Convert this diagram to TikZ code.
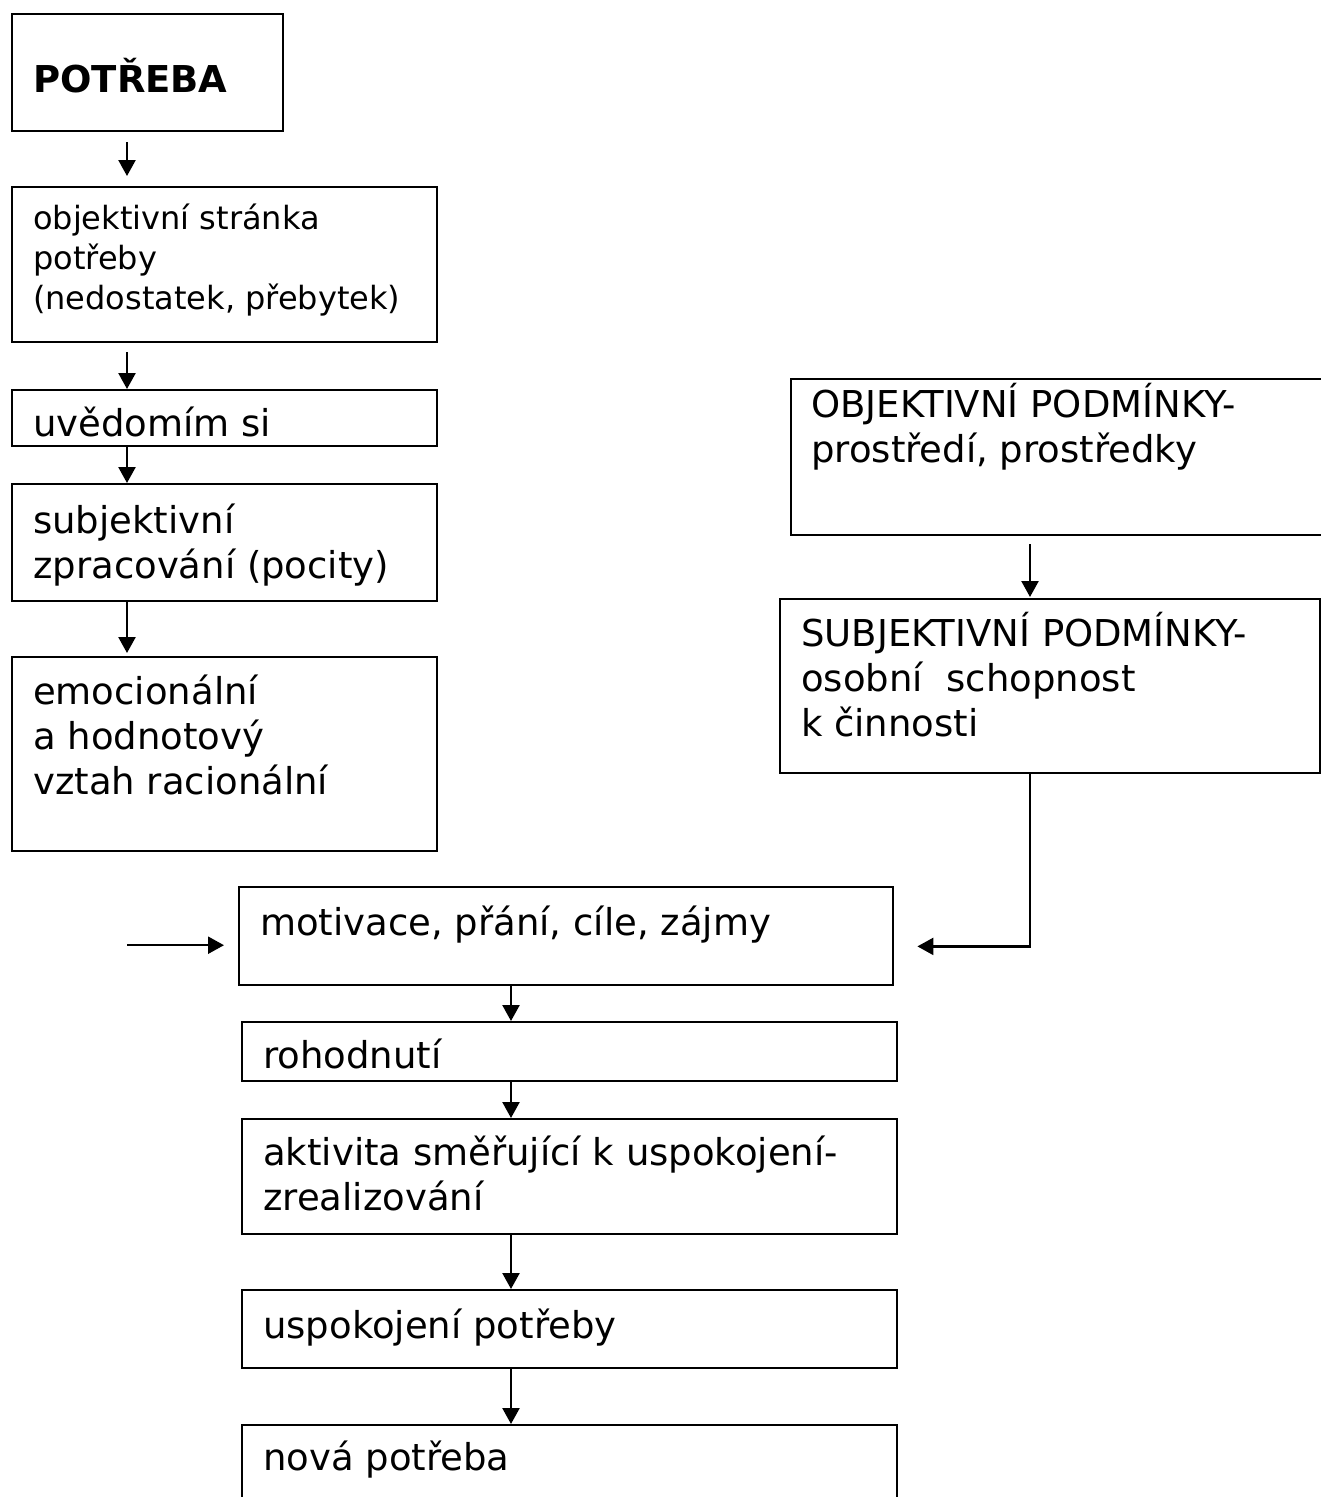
\documentclass[tikz,border=0pt]{standalone}
\usepackage{fontspec}
\setmainfont{DejaVu Sans}
\usetikzlibrary{arrows.meta,calc}
\begin{document}
\begin{tikzpicture}[x=1pt,y=-1pt,
  box/.style={draw=black,line width=2.4pt,rectangle,inner sep=0pt,anchor=north west},
  txt/.style={anchor=base west,inner sep=0pt,align=left,font=\fontsize{37}{45}\selectfont},
  smalltxt/.style={anchor=base west,inner sep=0pt,align=left,font=\fontsize{32}{40}\selectfont},
  arr/.style={line width=2.4pt,-{Triangle[length=16pt,width=17pt]}}]
\useasboundingbox[fill=white] (0,0) rectangle (1321,1497);
% boxes
\node[box,minimum width=271,minimum height=117] (b1) at (11,13) {};
\node[box,minimum width=425,minimum height=155] (b2) at (11,186) {};
\node[box,minimum width=425,minimum height=56] (b3) at (11,389) {};
\node[box,minimum width=425,minimum height=117] (b4) at (11,483) {};
\node[box,minimum width=425,minimum height=194] (b5) at (11,656) {};
\node[box,minimum width=545,minimum height=156] (r1) at (790,378) {};
\node[box,minimum width=540,minimum height=174] (r2) at (779,598) {};
\node[box,minimum width=654,minimum height=98] (m1) at (238,886) {};
\node[box,minimum width=655,minimum height=59] (m2) at (241,1021) {};
\node[box,minimum width=655,minimum height=115] (m3) at (241,1118) {};
\node[box,minimum width=655,minimum height=78] (m4) at (241,1289) {};
\node[box,minimum width=655,minimum height=100] (m5) at (241,1424) {};
% texts (base = baseline of the last line)
\node[anchor=base west,inner sep=0pt,font=\fontsize{37}{45}\selectfont\bfseries] (t1) at (33,92) {POTŘEBA};
\node[smalltxt] (t2) at (33,309) {objektivní stránka\\potřeby\\(nedostatek, přebytek)};
\node[txt] (t3) at (33,436) {uvědomím si};
\node[txt] (t4) at (33,578) {subjektivní\\zpracování (pocity)};
\node[txt] (t5) at (33,794) {emocionální\\a hodnotový\\vztah racionální};
\node[txt] (t6) at (811,462) {OBJEKTIVNÍ PODMÍNKY-\\prostředí, prostředky};
\node[txt] (t7) at (801,736) {SUBJEKTIVNÍ PODMÍNKY-\\osobní\ \ schopnost\\k činnosti};
\node[txt] (t8) at (260,935) {motivace, přání, cíle, zájmy};
\node[txt] (t9) at (263,1068) {rohodnutí};
\node[txt] (t10) at (263,1210) {aktivita směřující k uspokojení-\\zrealizování};
\node[txt] (t11) at (263,1338) {uspokojení potřeby};
\node[txt] (t12) at (263,1470) {nová potřeba};
% connectors
\draw[arr] ($(b1.south west)+(116,10)$) -- ($(b2.north west)+(116,-10)$);
\draw[arr] ($(b2.south west)+(116,9)$) -- ($(b3.north west)+(116,0)$);
\draw[arr] ($(b3.south west)+(116,0)$) -- ($(b4.north west)+(116,0)$);
\draw[arr] ($(b4.south west)+(116,0)$) -- ($(b5.north west)+(116,-3)$);
\draw[arr] ($(r1.south west)+(240,8)$) -- ($(r2.north west)+(251,-1)$);
\coordinate (lt) at ($(m1.west)+(-111,9)$);
\draw[arr] (lt) -- ($(m1.west |- lt)+(-14,0)$);
\coordinate (rc) at ($(r2.south west)+(251,172)$);
\draw[arr,line join=miter] ($(r2.south west)+(251,0)$) -- (rc) -- ($(m1.east |- rc)+(23,0)$);
\draw[arr] ($(m1.south west)+(273,0)$) -- ($(m2.north west)+(270,0)$);
\draw[arr] ($(m2.south west)+(270,0)$) -- ($(m3.north west)+(270,0)$);
\draw[arr] ($(m3.south west)+(270,0)$) -- ($(m4.north west)+(270,0)$);
\draw[arr] ($(m4.south west)+(270,0)$) -- ($(m5.north west)+(270,0)$);
\end{tikzpicture}
\end{document}
